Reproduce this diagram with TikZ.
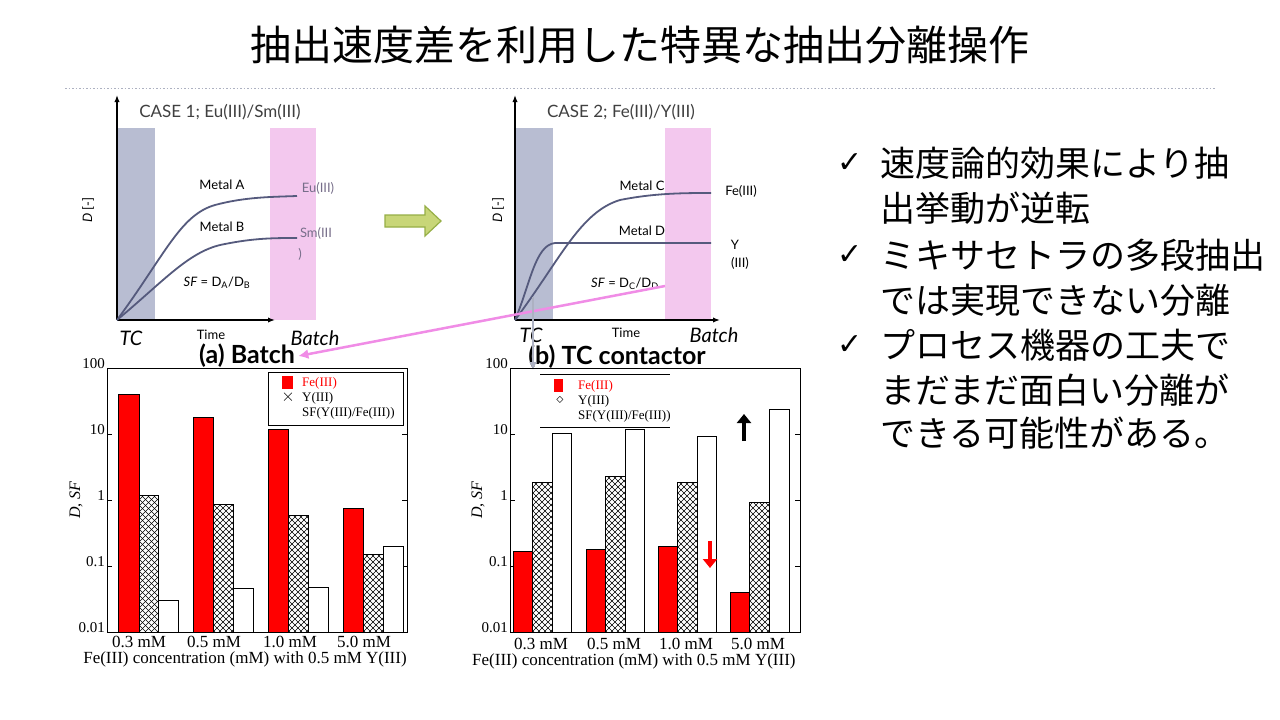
\documentclass[tikz,border=0pt]{standalone}
\usepackage{fontspec}
\setmainfont{Liberation Serif}
\newfontfamily\cjk{Noto Sans CJK JP}
\newfontfamily\gill{Lato}
\newfontfamily\ssb{Lato Bold}
\newfontfamily\dejavu{DejaVu Sans}
\usetikzlibrary{patterns,shapes.arrows,arrows.meta}
\definecolor{bandblue}{RGB}{184,189,210}
\definecolor{bandpink}{RGB}{243,200,238}
\definecolor{curve}{RGB}{85,90,125}
\definecolor{pinkarr}{RGB}{240,140,230}
\definecolor{olivef}{RGB}{200,214,120}
\definecolor{olived}{RGB}{150,175,70}
\newcommand{\hatchbar}[4]{%
 \begin{scope}\clip (#1,#2) rectangle (#3,#4);
 \foreach \k in {-300,-294,...,60}{\draw[line width=0.5pt] (#1+\k,#4) -- ++(300,-300); \draw[line width=0.5pt] (#3-\k,#4) -- ++(-300,-300);}
 \end{scope}\draw[line width=0.6pt] (#1,#2) rectangle (#3,#4);}
\begin{document}
\begin{tikzpicture}[x=1pt,y=-1pt,
 lbl/.style={font=\gill\fontsize{13}{14}\selectfont,inner sep=0},
 ax/.style={draw=black,line width=1.3pt,-{Latex[length=7pt]}},
 cv/.style={draw=curve,line width=1.8pt},
 rb/.style={fill=red,draw=black,line width=0.6pt},
 wb/.style={fill=white,draw=black,line width=0.7pt},
 tk/.style={font=\fontsize{15}{16}\selectfont,anchor=east,inner sep=1pt},
 xl/.style={font=\fontsize{17}{18}\selectfont,inner sep=0},
 lg/.style={anchor=west,inner sep=0,font=\fontsize{13}{14}\selectfont},
 big/.style={font=\cjk\fontsize{35}{40}\selectfont,anchor=west,inner sep=0}]
\useasboundingbox (0,0) rectangle (1280,720);
\fill[white] (0,0) rectangle (1280,720);
\node[font=\cjk\fontsize{41}{46}\selectfont] (title) at (640,45) {抽出速度差を利用した特異な抽出分離操作};
\draw[draw=bandblue!80!gray,dash pattern=on 1.5pt off 2pt,line width=0.8pt] (65,88) -- (1215,88);
% ---- chart 1
\fill[bandblue] (117,128) rectangle (155,320);
\fill[bandpink] (270,128) rectangle (316,320);
\draw[ax] (117,320) -- (117,95);
\draw[ax] (117,320) -- (275,320);
\draw[cv] (117,320) .. controls (165,255) and (180,215) .. (215,205) .. controls (245,197) and (270,197) .. (297,196);
\draw[cv] (117,320) .. controls (165,280) and (190,250) .. (225,244) .. controls (255,238) and (275,238) .. (297,238);
\node[lbl,font=\gill\fontsize{17}{18}\selectfont,text=black!75] (c1) at (220,112) {CASE 1; Eu(III)/Sm(III)};
\node[lbl] (ma) at (222,185) {Metal A};
\node[lbl] (mb) at (222,227) {Metal B};
\node[lbl,text=curve!80!pink] (eu) at (318,188) {Eu(III)};
\node[lbl,text=curve!80!pink] (sm) at (316,233) {Sm(III};
\node[lbl,text=curve!80!pink] (smb) at (300,254) {)};
\node[lbl] (sf1) at (217,283) {\textit{SF} = D\textsubscript{A}/D\textsubscript{B}};
\node[lbl,rotate=90] (d1) at (88,210) {\textit{D} [-]};
\node[font=\gill\itshape\fontsize{20}{22}\selectfont] (tc1) at (131,338) {TC};
\node[lbl] (t1) at (211,335) {Time};
\node[font=\gill\itshape\fontsize{20}{22}\selectfont] (b1) at (315,338) {Batch};
% ---- chart 2
\fill[bandblue] (515,128) rectangle (553,320);
\fill[bandpink] (665,128) rectangle (711,320);
\draw[ax] (515,320) -- (515,95);
\draw[ax] (515,320) -- (720,320);
\draw[cv] (515,320) .. controls (560,260) and (580,212) .. (620,200) .. controls (655,193) and (685,193) .. (711,193);
\draw[cv] (515,320) .. controls (530,285) and (535,245) .. (555,243) -- (711,243);
\node[lbl,font=\gill\fontsize{17}{18}\selectfont,text=black!75] (c2) at (621,112) {CASE 2; Fe(III)/Y(III)};
\node[lbl] (mc) at (642,186) {Metal C};
\node[lbl] (md) at (642,231) {Metal D};
\node[lbl] (fe) at (741,191) {Fe(III)};
\node[lbl] (y) at (735,245) {Y};
\node[lbl] (y3) at (740,263) {(III)};
\node[lbl] (sf2) at (625,284) {\textit{SF} = D\textsubscript{C}/D\textsubscript{D}};
\node[lbl,rotate=90] (d2) at (498,210) {\textit{D} [-]};
\node[font=\gill\itshape\fontsize{20}{22}\selectfont] (tc2) at (531,335) {TC};
\node[lbl] (t2) at (626,333) {Time};
\node[font=\gill\itshape\fontsize{20}{22}\selectfont] (b2) at (714,335) {Batch};
% green arrow
\draw[fill=olivef,draw=olived,line width=1.2pt]
 (385,215) -- (425,215) -- (425,206) -- (441,221) -- (425,236) -- (425,227) -- (385,227) -- cycle;
% (a)/(b) labels
\node[font=\ssb\fontsize{25}{27}\selectfont] (la) at (247,356) {(a) Batch};
\node[font=\ssb\fontsize{25}{27}\selectfont] (lb) at (617,357) {(b) TC contactor};
\coordinate (ps) at (665,286);
\coordinate (gs) at (533,297);
\coordinate (ge) at (533,370);
\draw[pinkarr,line width=2.5pt,-{Latex[length=10pt,width=10pt]}] (ps) -- (la.east);
\draw[bandblue!80!gray,line width=2pt,-{Latex[length=8pt,width=8pt]}] (gs) -- (ge);
% ---- bar chart (a)
\draw[line width=0.8pt] (107,368) rectangle (407,632);
\foreach \yy/\t in {368/100,434/10,500/1,566/0.1,632/0.01}{
 \draw (107,\yy) -- (112,\yy); \draw (407,\yy) -- (402,\yy);
 \node[tk] at (106,\yy-4) {\t};}
\draw[rb] (118,394) rectangle (139,632); \hatchbar{139}{495}{158}{632} \draw[wb] (158,600) rectangle (178,632);
\draw[rb] (193,417) rectangle (213,632); \hatchbar{213}{504}{233}{632} \draw[wb] (233,588) rectangle (253,632);
\draw[rb] (268,429) rectangle (288,632); \hatchbar{288}{515}{308}{632} \draw[wb] (308,587) rectangle (328,632);
\draw[rb] (343,508) rectangle (363,632); \hatchbar{363}{554}{383}{632} \draw[wb] (383,546) rectangle (403,632);
\draw[fill=white,line width=0.6pt] (268,372) rectangle (403,425);
\fill[red] (282,376) rectangle (293,389);
\node[lg,text=red] (lfa) at (302,383) {Fe(III)};
\node[inner sep=0,font=\fontsize{18}{18}\selectfont] (lxa) at (288,397) {$\times$};
\node[lg] (lya) at (302,398) {Y(III)};
\node[lg] (lsa) at (302,413) {SF(Y(III)/Fe(III))};
\node[xl] at (139,642) {0.3 mM}; \node[xl] at (214,642) {0.5 mM}; \node[xl] at (290,642) {1.0 mM}; \node[xl] at (364,642) {5.0 mM};
\node[xl] (xa) at (245,659) {Fe(III) concentration (mM) with 0.5 mM Y(III)};
\node[rotate=90,font=\itshape\fontsize{16}{17}\selectfont] (ya) at (76,500) {D, SF};
% ---- bar chart (b)
\draw[line width=0.8pt] (510,368) rectangle (800,632);
\foreach \yy/\t in {368/100,434/10,500/1,566/0.1,632/0.01}{
 \draw (510,\yy) -- (515,\yy); \draw (800,\yy) -- (795,\yy);
 \node[tk] at (509,\yy-4) {\t};}
\draw[rb] (513,551) rectangle (532,632); \hatchbar{532}{482}{552}{632} \draw[wb] (552,433) rectangle (571,632);
\draw[rb] (586,549) rectangle (605,632); \hatchbar{605}{476}{625}{632} \draw[wb] (625,429) rectangle (644,632);
\draw[rb] (658,546) rectangle (677,632); \hatchbar{677}{482}{697}{632} \draw[wb] (697,436) rectangle (716,632);
\draw[rb] (730,592) rectangle (749,632); \hatchbar{749}{502}{769}{632} \draw[wb] (769,409) rectangle (789,632);
\draw[line width=0.8pt] (540,374) -- (670,374); \draw[line width=0.8pt] (540,427) -- (670,427);
\fill[red] (554,379) rectangle (563,392);
\node[lg,text=red] (lfb) at (578,386) {Fe(III)};
\node[inner sep=0,font=\fontsize{14}{14}\selectfont] (lxb) at (560,400) {$\diamond$};
\node[lg] (lyb) at (578,401) {Y(III)};
\node[lg] (lsb) at (578,416) {SF(Y(III)/Fe(III))};
\coordinate (ua) at (744,441); \coordinate (ub) at (744,414);
\draw[line width=4pt,-{Triangle[length=9pt,width=14pt]}] (ua) -- (ub);
\coordinate (da) at (710,541); \coordinate (db) at (710,568);
\draw[red,line width=4pt,-{Triangle[length=9pt,width=14pt]}] (da) -- (db);
\node[xl] at (541,644) {0.3 mM}; \node[xl] at (614,644) {0.5 mM}; \node[xl] at (686,644) {1.0 mM}; \node[xl] at (758,644) {5.0 mM};
\node[xl,anchor=west] (xb) at (472,661) {Fe(III) concentration (mM) with 0.5 mM Y(III)};
\node[rotate=90,font=\itshape\fontsize{16}{17}\selectfont] (yb) at (478,500) {D, SF};
% ---- right text
\foreach \yy in {163,255,345}{\node[font=\dejavu\fontsize{30}{32}\selectfont,inner sep=0] at (850,\yy) {✓};}
\node[big] (t1a) at (880,163) {速度論的効果により抽};
\node[big] (t1b) at (880,208) {出挙動が逆転};
\node[big] (t2a) at (880,255) {ミキサセトラの多段抽出};
\node[big] (t2b) at (880,300) {では実現できない分離};
\node[big] (t3a) at (880,345) {プロセス機器の工夫で};
\node[big] (t3b) at (880,390) {まだまだ面白い分離が};
\node[big] (t3c) at (880,433) {できる可能性がある。};
\end{tikzpicture}
\end{document}
